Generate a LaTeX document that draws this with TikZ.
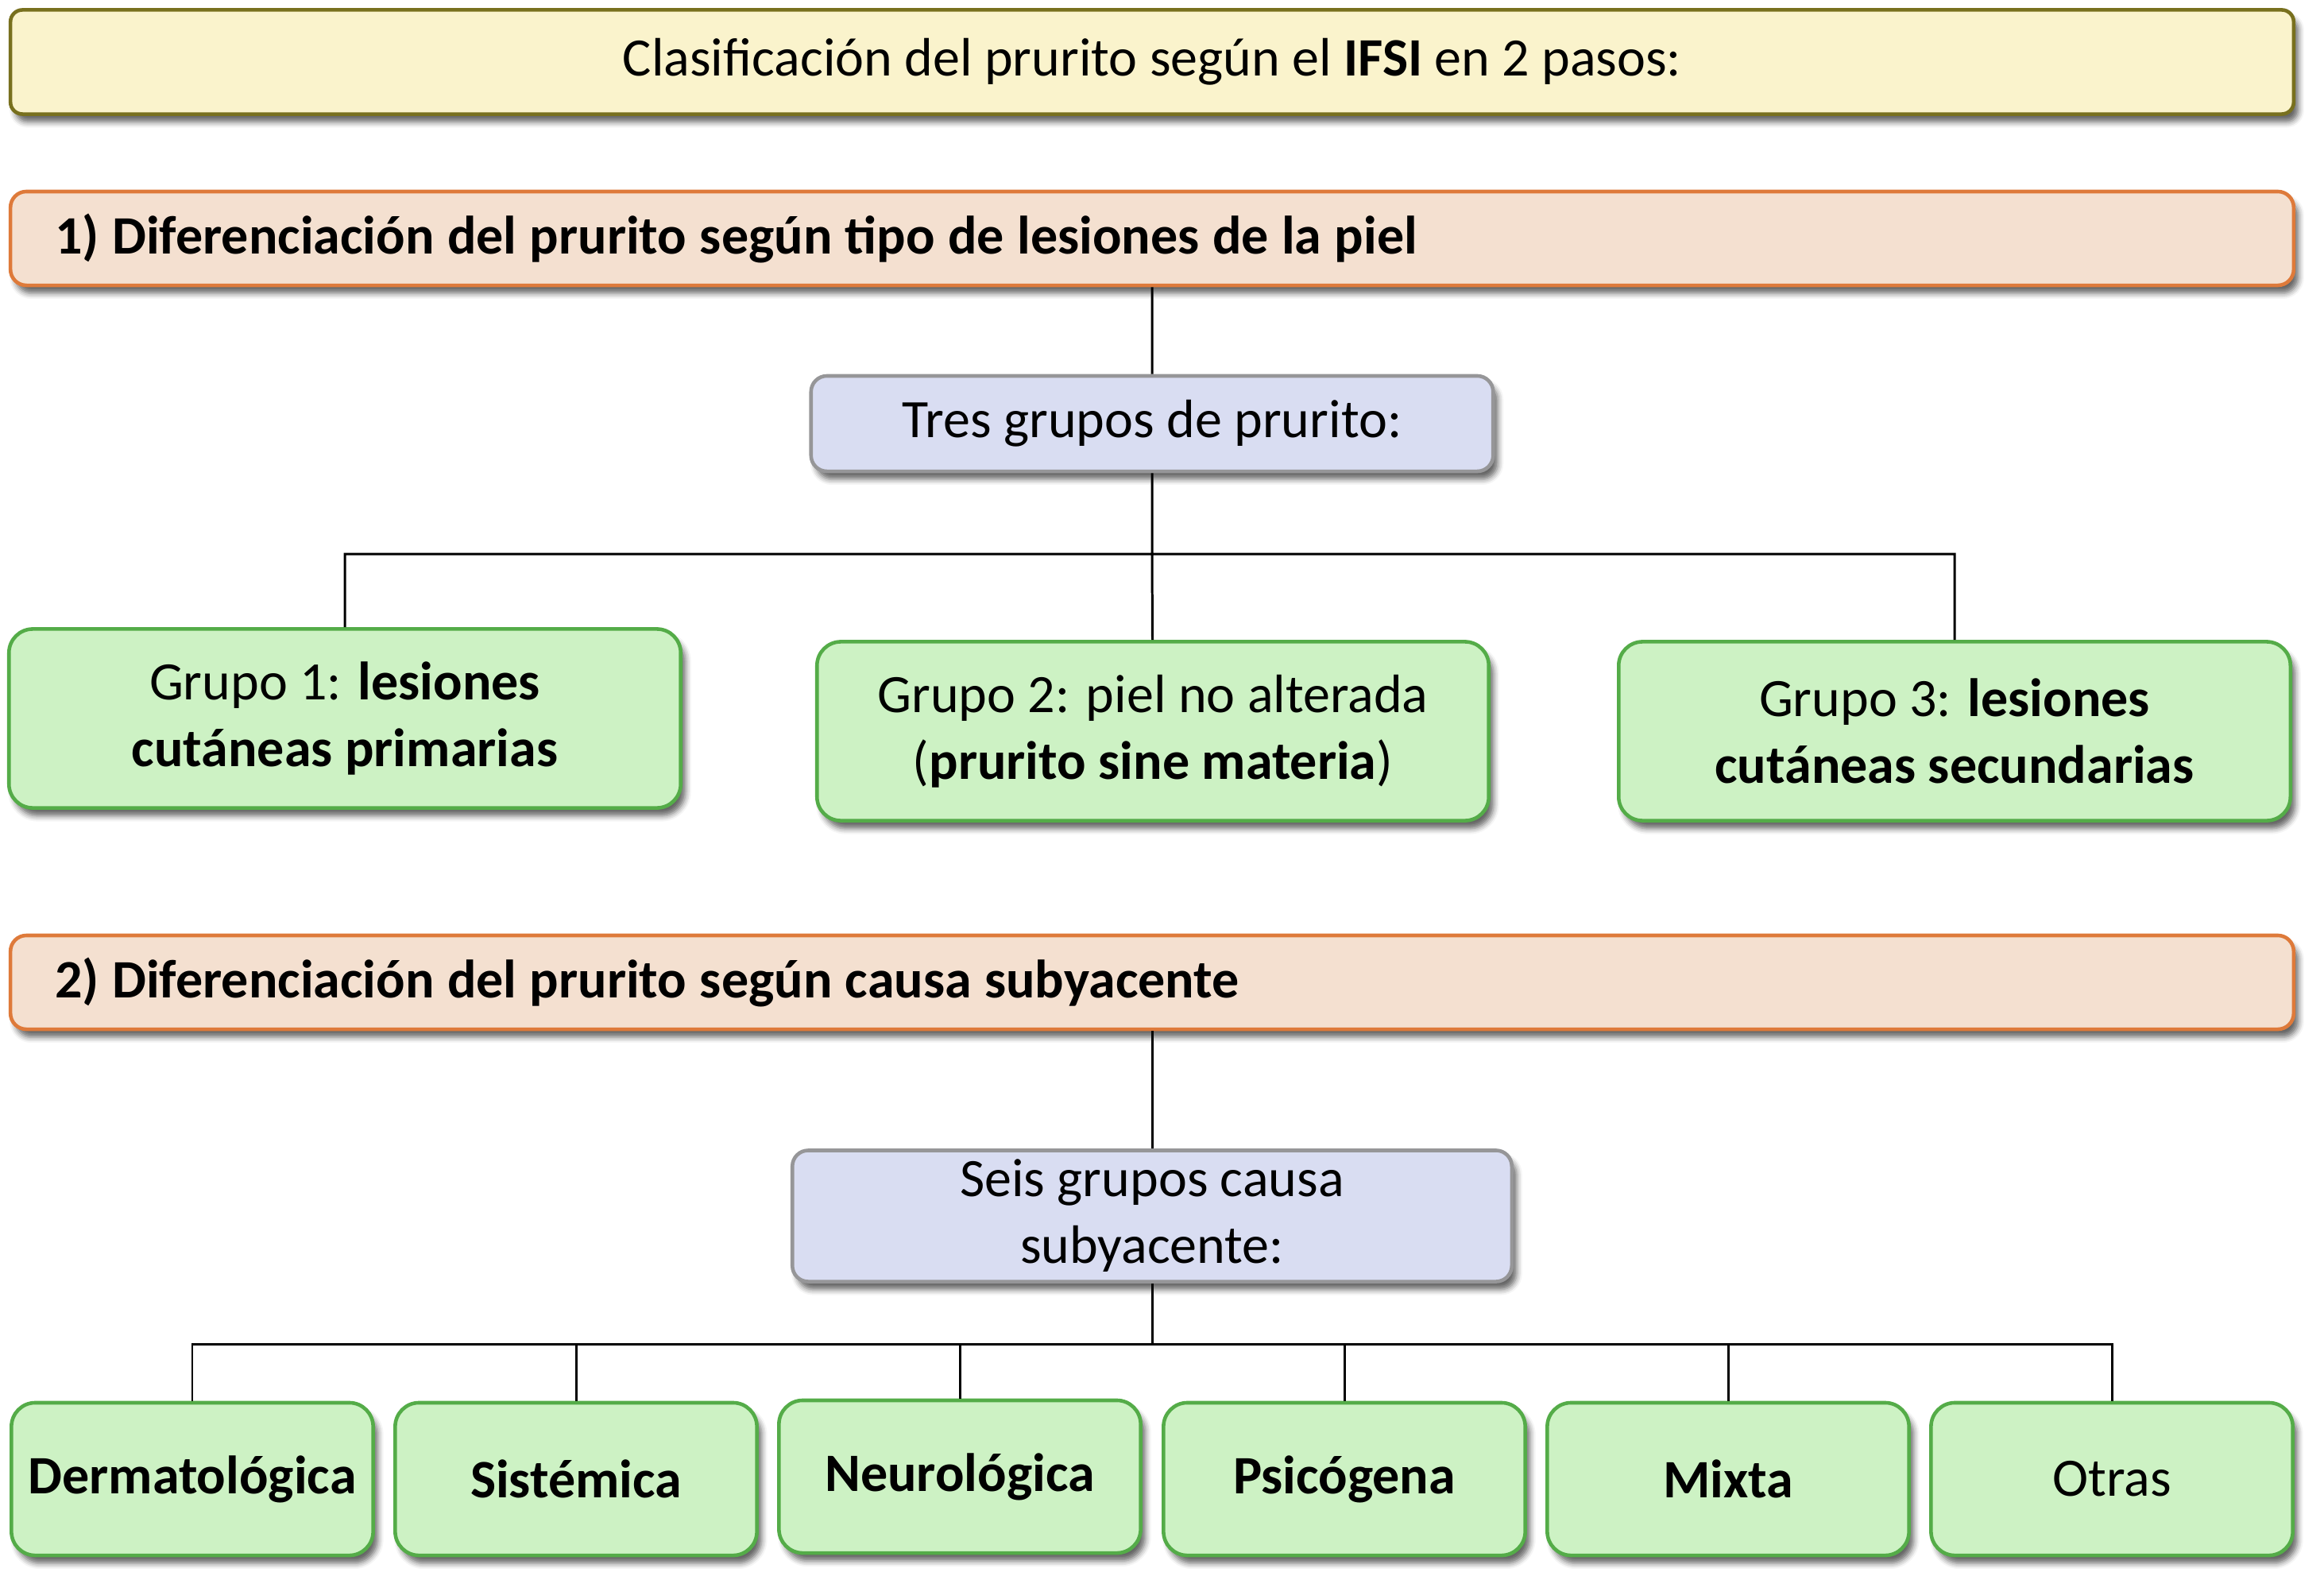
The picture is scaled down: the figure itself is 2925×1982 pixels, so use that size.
\documentclass[tikz,border=0pt]{standalone}
\usepackage{fontspec}
\setmainfont{Carlito}
\usetikzlibrary{shadows.blur}
\definecolor{tfill}{RGB}{250,243,204}
\definecolor{tdraw}{RGB}{120,112,30}
\definecolor{hfill}{RGB}{244,224,208}
\definecolor{hdraw}{RGB}{222,122,58}
\definecolor{bfill}{RGB}{217,221,242}
\definecolor{bdraw}{RGB}{150,150,152}
\definecolor{gfill}{RGB}{205,242,196}
\definecolor{gdraw}{RGB}{84,172,72}
\newcommand{\tightsp}{\bfseries\spaceskip=0.24em\relax}
\begin{document}
\begin{tikzpicture}[x=0.01cm,y=-0.01cm,
	txt/.style={font=\fontsize{19.35pt}{23.9pt}\selectfont},
	box/.style={txt,rounded corners=0.2cm,line width=1.3pt,align=center,inner sep=0pt,
		blur shadow={shadow xshift=0.06cm,shadow yshift=-0.1cm,shadow blur radius=0.07cm,shadow opacity=60}},
	banner/.style={box,draw=tdraw,fill=tfill,minimum width=28.72cm,minimum height=1.31cm,rounded corners=0.15cm},
	head/.style={box,draw=hdraw,fill=hfill,text width=27.6cm,align=left,inner xsep=0.56cm,minimum height=1.18cm},
	hub/.style={box,draw=bdraw,fill=bfill,minimum height=1.2cm},
	leaf/.style={box,draw=gdraw,fill=gfill,minimum width=4.55cm,minimum height=1.92cm,rounded corners=0.3cm},
	grp/.style={leaf,minimum width=8.45cm,minimum height=2.25cm},
	link/.style={line width=0.85pt}]
\useasboundingbox (0,0) rectangle (2925,1982);
	\node (T)  at (1450,  78) [banner] {Clasificación del prurito según el \textbf{IFSI} en 2 pasos:};
	\node (P1) at (1450, 300) [head] {\tightsp 1) Diferenciación del prurito según tipo de lesiones de la piel};
	\node (R)  at (1450, 533) [hub,minimum width=8.58cm] {Tres grupos de prurito:};
	\node (G1) at ( 434, 904) [grp] {Grupo 1: \textbf{lesiones}\\\textbf{cutáneas primarias}};
	\node (G2) at (1451, 920) [grp] {Grupo 2: piel no alterada\\(\textbf{prurito sine materia})};
	\node (G3) at (2460, 920) [grp] {Grupo 3: \textbf{lesiones}\\\textbf{cutáneas secundarias}};
	\node (P2) at (1450,1236) [head] {\tightsp 2) Diferenciación del prurito según causa subyacente};
	\node (S)  at (1450,1530) [hub,minimum width=9.05cm,minimum height=1.65cm] {Seis grupos causa\\subyacente:};
	\node (C1) at ( 242,1861) [leaf] {\textbf{Dermatológica}};
	\node (C2) at ( 725,1861) [leaf] {\textbf{Sistémica}};
	\node (C3) at (1208,1858) [leaf] {\textbf{Neurológica}};
	\node (C4) at (1692,1861) [leaf] {\textbf{Psicógena}};
	\node (C5) at (2175,1861) [leaf] {\textbf{Mixta}};
	\node (C6) at (2658,1861) [leaf] {Otras};
	\coordinate (J1) at (1450, 697);
	\coordinate (J2) at (1450,1691);
	\draw [link] (P1) -- (R)
		(R) -- (J1)
		(J1) -| (G1)
		(J1) -- (G2)
		(J1) -| (G3);
	\draw [link] (P2) -- (S)
		(S) -- (J2);
	\foreach \c in {C1,C2,C3,C4,C5,C6}
		\draw [link] (J2) -| (\c);
\end{tikzpicture}
\end{document}
